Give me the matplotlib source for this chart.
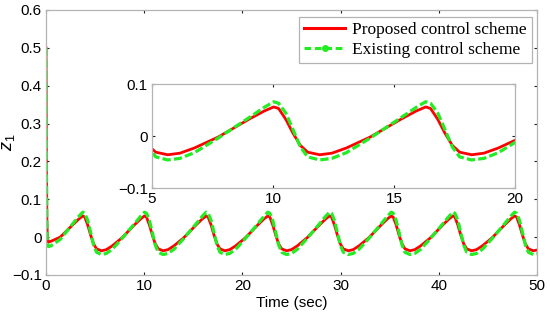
import numpy as np
import matplotlib
matplotlib.use('Agg')
from matplotlib import pyplot as plt
from matplotlib.lines import Line2D

# time samples (sec)
t = [0.0, 0.02, 0.05, 0.09, 0.14, 0.25, 0.5, 1.45, 2.75, 3.35,
     3.75, 3.95, 4.25, 4.55, 4.85, 5.15, 5.65, 6.15, 6.75,
     7.73, 9.03, 9.63, 10.03, 10.23, 10.53, 10.83, 11.13, 11.43, 11.93, 12.43, 13.03,
     14.01, 15.31, 15.91, 16.31, 16.51, 16.81, 17.11, 17.41, 17.71, 18.21, 18.71, 19.31,
     20.29, 21.59, 22.19, 22.59, 22.79, 23.09, 23.39, 23.69, 23.99, 24.49, 24.99, 25.59,
     26.57, 27.87, 28.47, 28.87, 29.07, 29.37, 29.67, 29.97, 30.27, 30.77, 31.27, 31.87,
     32.85, 34.15, 34.75, 35.15, 35.35, 35.65, 35.95, 36.25, 36.55, 37.05, 37.55, 38.15,
     39.13, 40.43, 41.03, 41.43, 41.63, 41.93, 42.23, 42.53, 42.83, 43.33, 43.83, 44.43,
     45.41, 46.71, 47.31, 47.71, 47.91, 48.21, 48.51, 48.81, 49.11, 49.61, 50.0]

# proposed control scheme
z1_prop = [0.5, 0.38, 0.18, 0.05, 0.0, -0.013, -0.011, 0.0, 0.033, 0.048,
           0.056, 0.053, 0.032, 0.005, -0.018, -0.031, -0.036, -0.033, -0.023,
           -0.002, 0.033, 0.048, 0.056, 0.053, 0.032, 0.005, -0.018, -0.031, -0.036, -0.033, -0.023,
           -0.002, 0.033, 0.048, 0.056, 0.053, 0.032, 0.005, -0.018, -0.031, -0.036, -0.033, -0.023,
           -0.002, 0.033, 0.048, 0.056, 0.053, 0.032, 0.005, -0.018, -0.031, -0.036, -0.033, -0.023,
           -0.002, 0.033, 0.048, 0.056, 0.053, 0.032, 0.005, -0.018, -0.031, -0.036, -0.033, -0.023,
           -0.002, 0.033, 0.048, 0.056, 0.053, 0.032, 0.005, -0.018, -0.031, -0.036, -0.033, -0.023,
           -0.002, 0.033, 0.048, 0.056, 0.053, 0.032, 0.005, -0.018, -0.031, -0.036, -0.033, -0.023,
           -0.002, 0.033, 0.048, 0.056, 0.053, 0.032, 0.005, -0.018, -0.031, -0.036, -0.034]

# existing control scheme
z1_exist = [0.5, 0.38, 0.18, 0.04, -0.012, -0.025, -0.023, -0.006, 0.036, 0.055,
            0.066, 0.063, 0.044, 0.012, -0.021, -0.040, -0.046, -0.043, -0.032,
            -0.004, 0.036, 0.055, 0.066, 0.063, 0.044, 0.012, -0.021, -0.040, -0.046, -0.043, -0.032,
            -0.004, 0.036, 0.055, 0.066, 0.063, 0.044, 0.012, -0.021, -0.040, -0.046, -0.043, -0.032,
            -0.004, 0.036, 0.055, 0.066, 0.063, 0.044, 0.012, -0.021, -0.040, -0.046, -0.043, -0.032,
            -0.004, 0.036, 0.055, 0.066, 0.063, 0.044, 0.012, -0.021, -0.040, -0.046, -0.043, -0.032,
            -0.004, 0.036, 0.055, 0.066, 0.063, 0.044, 0.012, -0.021, -0.040, -0.046, -0.043, -0.032,
            -0.004, 0.036, 0.055, 0.066, 0.063, 0.044, 0.012, -0.021, -0.040, -0.046, -0.043, -0.032,
            -0.004, 0.036, 0.055, 0.066, 0.063, 0.044, 0.012, -0.021, -0.040, -0.046, -0.044]

labels = ['Proposed control scheme', 'Existing control scheme']

main_xticks = [0, 10, 20, 30, 40, 50]
main_yticks = [-0.1, 0, 0.1, 0.2, 0.3, 0.4, 0.5, 0.6]
inset_xticks = [5, 10, 15, 20]
inset_yticks = [-0.1, 0, 0.1]

red = '#ff0000'
green = '#22ec22'
dash = (0, (2.6, 1.0))

plt.rcParams['font.family'] = ['Liberation Sans', 'DejaVu Sans']
plt.rcParams['font.size'] = 11
plt.rcParams['mathtext.fontset'] = 'custom'
plt.rcParams['mathtext.it'] = 'Liberation Sans:italic'
plt.rcParams['mathtext.rm'] = 'Liberation Sans'


def matlab_style(ax):
    for s in ax.spines.values():
        s.set_color('#b4b4b4')
        s.set_linewidth(0.9)
    ax.tick_params(direction='in', length=2.5, width=0.8, color='#202020',
                   top=True, right=True, pad=3, labelsize=11)


def fmt(v):
    return '0' if v == 0 else ('%g' % v).replace('-', '\u2212')


fig = plt.figure(figsize=(5.5, 3.22), dpi=100)
ax = fig.add_axes([0.0836, 0.146, 0.893, 0.823])
ax.plot(t, z1_prop, color=red, lw=2.0, solid_joinstyle='round')
ax.plot(t, z1_exist, color=green, lw=2.3, ls=dash)
ax.set_xlim(0, 50)
ax.set_ylim(-0.1, 0.6)
ax.set_xticks(main_xticks)
ax.set_xticklabels([fmt(v) for v in main_xticks])
ax.set_yticks(main_yticks)
ax.set_yticklabels([fmt(v) for v in main_yticks])
matlab_style(ax)
ax.set_xlabel('Time (sec)', fontsize=11, labelpad=2)
ax.set_ylabel('$z_1$', fontsize=13)
ax.yaxis.set_label_coords(-0.058, 0.5)

axi = fig.add_axes([0.2764, 0.416, 0.66, 0.323])
axi.plot(t, z1_prop, color=red, lw=2.0, solid_joinstyle='round')
axi.plot(t, z1_exist, color=green, lw=2.3, ls=dash)
axi.set_xlim(5, 20)
axi.set_ylim(-0.1, 0.1)
axi.set_xticks(inset_xticks)
axi.set_xticklabels([fmt(v) for v in inset_xticks])
axi.set_yticks(inset_yticks)
axi.set_yticklabels([fmt(v) for v in inset_yticks])
matlab_style(axi)

handles = [Line2D([], [], color=red, lw=2.2),
           Line2D([], [], color=green, lw=2.2, ls=(0, (2.2, 1.2)), marker='.', markersize=8)]
leg = fig.legend(handles, labels, loc='upper right', bbox_to_anchor=(0.967, 0.947),
                 borderaxespad=0, fancybox=False, framealpha=1, edgecolor='#b4b4b4',
                 handlelength=2.35, handletextpad=0.4, borderpad=0.3, labelspacing=0.2,
                 prop={'family': 'Liberation Serif', 'size': 12.5})
leg.get_frame().set_linewidth(0.9)

fig.savefig('out.png', dpi=100)
